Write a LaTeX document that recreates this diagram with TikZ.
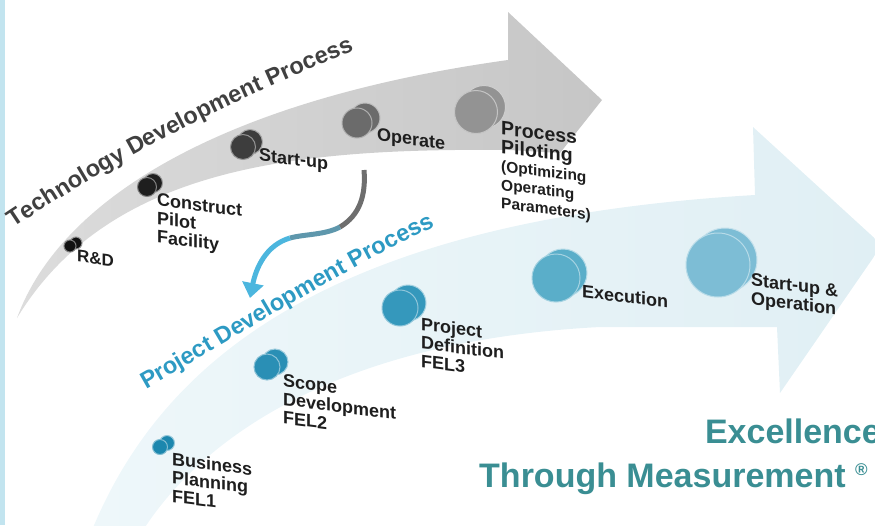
\documentclass[tikz,border=0pt]{standalone}
\usepackage{fontspec}
\setmainfont{Liberation Sans}
\usetikzlibrary{decorations.text,arrows.meta}
\definecolor{bandgrayL}{HTML}{DCDCDC}
\definecolor{bandgrayR}{HTML}{C6C6C6}
\definecolor{bandblueL}{HTML}{EEF7FA}
\definecolor{bandblueR}{HTML}{E0EFF4}
\definecolor{leftblue}{HTML}{C2E4EF}
\definecolor{techgray}{HTML}{404040}
\definecolor{projblue}{HTML}{2D9AC3}
\definecolor{slogancol}{HTML}{3A8E93}
\definecolor{lbltext}{HTML}{1E1E1E}
\definecolor{arrgray}{HTML}{6E6E6E}
\definecolor{arrmix}{HTML}{5E97AC}
\definecolor{arrblue}{HTML}{4CB6DE}
\definecolor{dA}{HTML}{111111}
\definecolor{dB}{HTML}{1E1E1E}
\definecolor{dC}{HTML}{3D3D3D}
\definecolor{dD}{HTML}{6B6B6B}
\definecolor{dE}{HTML}{939393}
\definecolor{bA}{HTML}{1C87AE}
\definecolor{bB}{HTML}{2A8FB5}
\definecolor{bC}{HTML}{3598BC}
\definecolor{bD}{HTML}{5AAEC9}
\definecolor{bE}{HTML}{7DBDD5}
\newcommand\lblfont{\bfseries\fontsize{18}{18.5}\selectfont}
\newcommand\ttlfont{\bfseries\fontsize{23.5}{23.5}\selectfont}
\newcommand\duodot[7]{%
  \node[dotb=#5, minimum size=#4pt] (#1b) at (#2+#6,#3-#7) {};
  \node[dotf=#5, minimum size=#4pt] (#1) at (#2,#3) {};
}
\begin{document}
\begin{tikzpicture}[x=1pt,y=-1pt,
  dotf/.style={circle, inner sep=0pt, fill=#1, draw=white!45!#1, line width=1pt},
  dotb/.style={circle, inner sep=0pt, fill=#1, draw=white!55!#1, line width=1pt},
  lbl/.style={anchor=north west, yslant=-0.125, inner sep=0pt, align=left, font=\lblfont, text=lbltext},
  slogan/.style={font=\bfseries\fontsize{34}{34}\selectfont, text=slogancol, inner sep=0pt},
  conn/.style={line width=5pt}]
\useasboundingbox (0,0) rectangle (875,525);
\begin{scope}
\clip (0,0) rectangle (875,525);
% blue process arrow
\shade[left color=bandblueL, right color=bandblueR]
  (90,535) .. controls (160,360) and (330,220) .. (755,195) -- (753,127)
  -- (882,245) -- (780,393) -- (777,327) -- (600,327)
  .. controls (350,340) and (205,430) .. (140,535) -- cycle;
% gray process arrow
\shade[left color=bandgrayL, right color=bandgrayR]
  (17,318) .. controls (60,200) and (220,100) .. (508,60) -- (508,12)
  -- (602,100) -- (560,153) -- (510,150)
  .. controls (300,148) and (110,165) .. (17,318) -- cycle;
\fill[leftblue] (0,0) rectangle (5,525);
\end{scope}
% titles along the arrows
\path[decorate, decoration={text along path, text color=techgray,
  text={|\ttlfont|Technology Development Process}}]
  (14,228) .. controls (100,170) and (225,100) .. (370,45);
\path[decorate, decoration={text along path, text color=projblue,
  text={|\ttlfont|Project Development Process}}]
  (146,389) .. controls (240,336) and (340,270) .. (465,212);
% connecting arrow
\coordinate (aS) at (364,170);
\coordinate (aM1) at (340,227);
\coordinate (aM2) at (290,238);
\coordinate (aE) at (250,298);
\draw[conn, arrgray] (aS) .. controls (366,195) and (360,215) .. (aM1);
\draw[conn, arrmix] (aM1) .. controls (325,235) and (305,234) .. (aM2);
\draw[conn, arrblue, -{Triangle[width=21pt,length=15pt]}]
  (aM2) .. controls (266,245) and (256,268) .. (aE);
% technology dots
\duodot{rd}{70}{246}{12}{dA}{6}{3}
\duodot{cpf}{147}{187}{19}{dB}{6}{4}
\duodot{su}{243}{147}{25}{dC}{7}{5}
\duodot{op}{357}{123}{30}{dD}{8}{5}
\duodot{pp}{476}{112}{43}{dE}{8}{5}
% project dots
\duodot{bp}{160}{447}{15}{bA}{7}{4}
\duodot{sd}{267}{367}{26}{bB}{8}{5}
\duodot{pd}{400}{308}{36}{bC}{8}{5}
\duodot{ex}{556}{278}{48}{bD}{7}{5}
\duodot{so}{718}{265}{64}{bE}{7}{5}
% labels
\node[lbl, font=\bfseries\fontsize{17}{17}\selectfont] (lrd) at (77,250) {R\&D};
\node[lbl] (lcpf) at (157,193) {Construct\\Pilot\\Facility};
\node[lbl] (lsu) at (259,148) {Start-up};
\node[lbl] (lop) at (377,128) {Operate};
\node[lbl] (lpp) at (501,121) {{\fontsize{19.5}{20}\selectfont Process}\\{\fontsize{19.5}{20}\selectfont Piloting}\\{\fontsize{15.5}{17}\selectfont (Optimizing}\\{\fontsize{15.5}{17}\selectfont Operating}\\{\fontsize{15.5}{17}\selectfont Parameters)}};
\node[lbl] (lbp) at (172,452) {Business\\Planning\\FEL1};
\node[lbl] (lsd) at (283,374) {Scope\\Development\\FEL2};
\node[lbl] (lpd) at (421,317) {Project\\Definition\\FEL3};
\node[lbl] (lex) at (582,284) {Execution};
\node[lbl] (lso) at (751,273) {Start-up \&\\Operation};
% slogan
\node[slogan, anchor=base east] (exc) at (881,443) {Excellence};
\node[slogan, anchor=base west] (thr) at (479,487) {Through Measurement \raisebox{12pt}{\fontsize{17}{17}\selectfont ®}};
\end{tikzpicture}
\end{document}
